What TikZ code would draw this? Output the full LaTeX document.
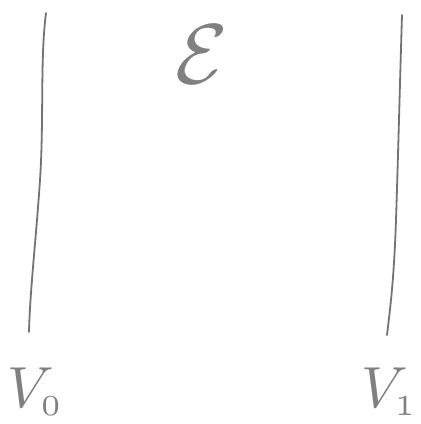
\documentclass[tikz,border=0pt]{standalone}
\usepackage{amsmath}
\tikzset{
  plate/.style={draw=black!55, line width=1.8pt, line cap=round},
  lbl/.style={text=black!50, inner sep=0pt},
}
\begin{document}
\begin{tikzpicture}[x=1pt,y=-1pt]
\useasboundingbox (0,0) rectangle (421,424);
% left plate
\coordinate (lt) at (46,13);
\coordinate (lb) at (29,332);
\draw[plate] (lt) .. controls (40,60) and (44,120) .. (40,180) .. controls (36,240) and (30,290) .. (lb);
% right plate
\coordinate (rt) at (402,15);
\coordinate (rb) at (387,335);
\draw[plate] (rt) .. controls (400,80) and (398,160) .. (396,220) .. controls (394,280) and (390,310) .. (rb);
% field label
\node[lbl, scale=8.5] (E) at (202,54) {$\mathcal{E}$};
% potentials
\node[lbl, scale=5.8, anchor=base west] (V0) at (6,407) {$V_{\scriptscriptstyle 0}$};
\node[lbl, scale=5.8, anchor=base west] (V1) at (360,407) {$V_{\scriptscriptstyle 1}$};
\end{tikzpicture}
\end{document}
